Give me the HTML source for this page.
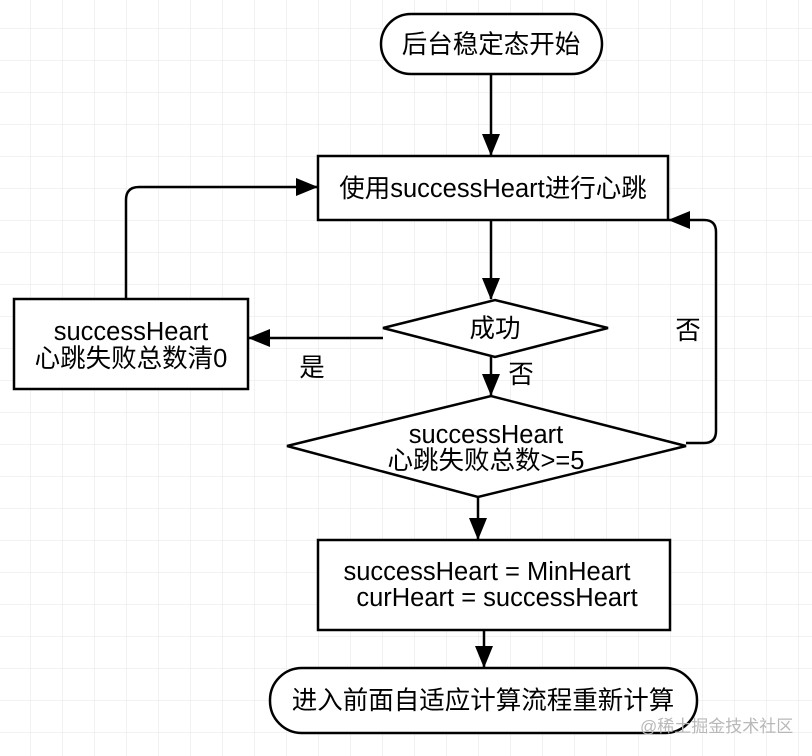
<!DOCTYPE html>
<html><head><meta charset="utf-8"><style>
html,body{margin:0;padding:0;background:#fff;}
svg{display:block;}
text{font-family:"Liberation Sans","Noto Sans CJK SC",sans-serif;font-size:25.5px;fill:#000;}
</style></head><body>
<svg width="812" height="756" viewBox="0 0 812 756" xmlns="http://www.w3.org/2000/svg">
<defs>
<pattern id="g" x="30.5" y="28.3" width="32" height="32" patternUnits="userSpaceOnUse">
<path d="M0 0H32M0 0V32" stroke="#e4e4e4" stroke-width="1" fill="none"/>
</pattern>
<marker id="a" markerWidth="22" markerHeight="18" refX="21" refY="9" orient="auto" markerUnits="userSpaceOnUse">
<path d="M0 0L22 9L0 18z" fill="#000"/>
</marker>
</defs>
<rect width="812" height="756" fill="url(#g)"/>
<g stroke="#000" stroke-width="2.5" fill="#fff">
<rect x="381" y="14" width="221" height="60" rx="30"/>
<rect x="318" y="156" width="350" height="64"/>
<polygon points="383,328 495,300 608,328 495,357"/>
<rect x="14" y="299" width="234" height="90"/>
<polygon points="287,446 491,396 686,446 478,497"/>
<rect x="318" y="540" width="352" height="90"/>
<rect x="270" y="668" width="427" height="65" rx="32"/>
</g>
<g stroke="#000" stroke-width="2.5" fill="none">
<path d="M491 74V155" marker-end="url(#a)"/>
<path d="M491 220V299" marker-end="url(#a)"/>
<path d="M383 338H249" marker-end="url(#a)"/>
<path d="M491 357V395" marker-end="url(#a)"/>
<path d="M686 443H704Q716 443 716 431V232Q716 220 704 220H669" marker-end="url(#a)"/>
<path d="M126 299V200Q126 187 139 187H317" marker-end="url(#a)"/>
<path d="M478 497V539" marker-end="url(#a)"/>
<path d="M484 630V667" marker-end="url(#a)"/>
</g>
<g text-anchor="middle">
<text x="491" y="53">后台稳定态开始</text>
<text x="493" y="197">使用successHeart进行心跳</text>
<text x="495" y="337">成功</text>
<text x="131" y="340">successHeart</text>
<text x="131" y="367">心跳失败总数清0</text>
<text x="486" y="443">successHeart</text>
<text x="486" y="469">心跳失败总数&gt;=5</text>
<text x="487" y="580">successHeart = MinHeart</text>
<text x="497" y="606">curHeart = successHeart</text>
<text x="483" y="709">进入前面自适应计算流程重新计算</text>
<text x="312" y="376">是</text>
<text x="521" y="383">否</text>
<text x="688" y="339">否</text>
</g>
<text x="640" y="732" style="font-size:17px;fill:#b8b8b8">@稀土掘金技术社区</text>
</svg>
</body></html>
